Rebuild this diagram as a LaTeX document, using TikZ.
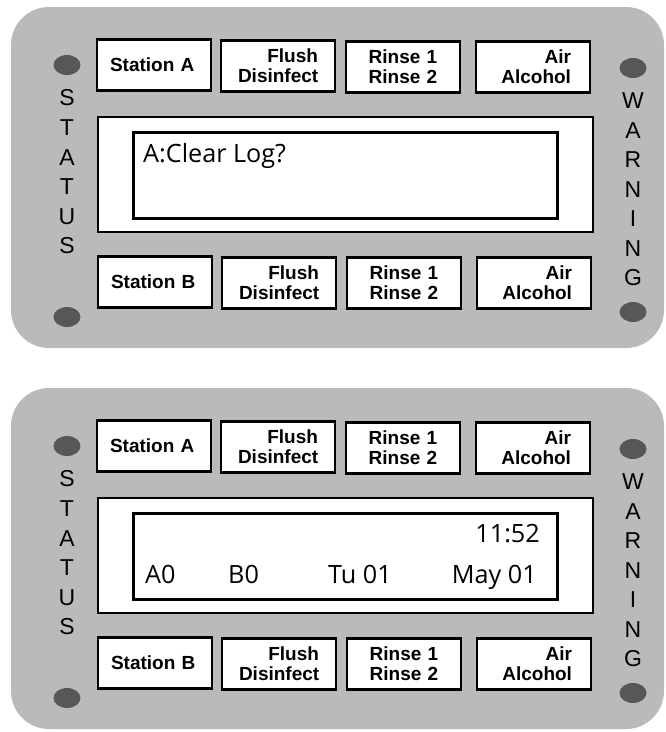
\documentclass[tikz,border=0pt]{standalone}
\usepackage{fontspec}
\setmainfont{Liberation Sans}
\newfontfamily\lcdfont{Open Sans}
\usetikzlibrary{shapes.geometric}
\begin{document}
\begin{tikzpicture}[x=1pt,y=-1pt,
  panel/.style={fill=black!27, rounded corners=38pt},
  lamp/.style={ellipse, fill=black!66, minimum width=27pt, minimum height=20pt, inner sep=0pt},
  lett/.style={inner sep=0pt, font=\fontsize{23}{23}\selectfont},
  btn/.style={draw=black, line width=2.6pt, fill=white, minimum height=51pt, inner ysep=0pt,
    font=\bfseries\fontsize{19}{20}\selectfont},
  stn/.style={btn, align=left, text width=88pt, inner xsep=13pt},
  rbtn/.style={btn, align=right, text width=80pt, inner xsep=17pt},
  cbtn/.style={btn, align=center, text width=80pt, inner xsep=17pt},
  abtn/.style={btn, align=right, text width=76pt, inner xsep=19pt},
  outerdisp/.style={draw=black, line width=2pt, fill=white},
  innerdisp/.style={draw=black, line width=3pt, fill=white},
  lcd/.style={inner sep=0pt, font=\lcdfont\fontsize{25.2}{25.2}\selectfont}
]
\useasboundingbox (0,0) rectangle (665,732);
\foreach \p/\dy in {t/0,b/381}{
\begin{scope}[yshift=-\dy pt]
  \fill[panel] (11,7) rectangle (664,348);
  \node[lamp] (ls1\p) at (67,65) {};
  \node[lamp] (ls2\p) at (67,317) {};
  \node[lamp] (lw1\p) at (633,68) {};
  \node[lamp] (lw2\p) at (633,312) {};
  \foreach \ch [count=\i] in {S,T,A,T,U,S}
    \node[lett] (st\p\i) at (67,{98+29.6*(\i-1)}) {\ch};
  \foreach \ch [count=\i] in {W,A,R,N,I,N,G}
    \node[lett] (wa\p\i) at (633,{101+29.5*(\i-1)}) {\ch};
  \node[stn]  (sa\p)  at (154,65) {Station A};
  \node[rbtn] (fa\p)  at (278,66) {Flush\\Disinfect};
  \node[cbtn] (ra\p)  at (403,67) {Rinse 1\\Rinse 2};
  \node[abtn] (aa\p)  at (533,67) {Air\\Alcohol};
  \node[stn]  (sb\p)  at (155,282) {Station B};
  \node[rbtn] (fb\p)  at (279,283) {Flush\\Disinfect};
  \node[cbtn] (rb\p)  at (404,283) {Rinse 1\\Rinse 2};
  \node[abtn] (ab\p)  at (534,283) {Air\\Alcohol};
  \draw[outerdisp] (98,117) rectangle (593,232);
  \draw[innerdisp] (133,132) rectangle (557,218);
\end{scope}
}
\node[lcd, anchor=base west] (msg) at (143,162) {A:Clear Log?};
\begin{scope}[yshift=-381pt]
  \node[lcd, anchor=base east] (clk) at (540,161) {11:52};
  \node[lcd, anchor=base west] (ca) at (145,202) {A0};
  \node[lcd, anchor=base west] (cb) at (228,202) {B0};
  \node[lcd, anchor=base west] (cday) at (328,202) {Tu 01};
  \node[lcd, anchor=base east] (cdate) at (537,202) {May 01};
\end{scope}
\end{tikzpicture}
\end{document}
